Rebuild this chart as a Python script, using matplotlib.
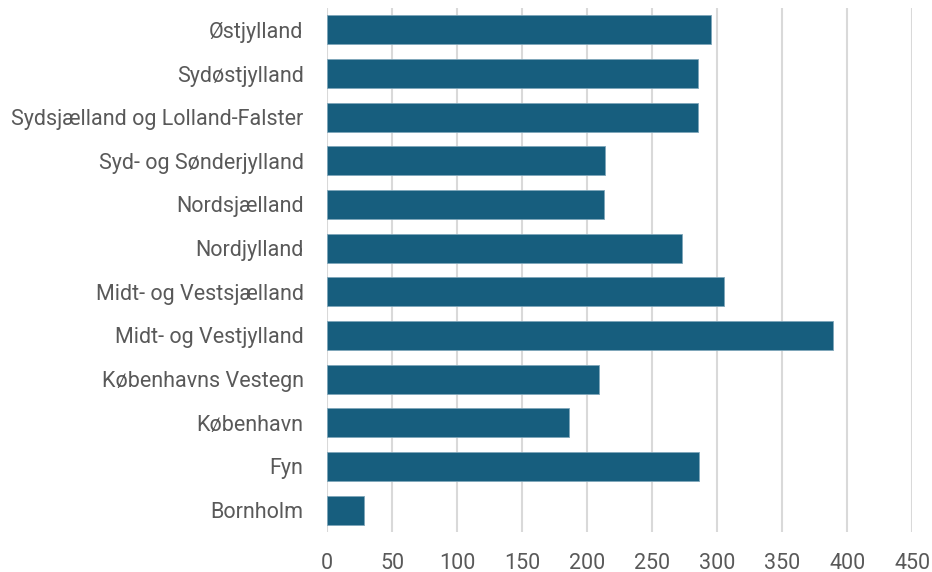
import matplotlib.pyplot as plt

regions = ["Østjylland", "Sydøstjylland", "Sydsjælland og Lolland-Falster",
           "Syd- og Sønderjylland", "Nordsjælland", "Nordjylland",
           "Midt- og Vestsjælland", "Midt- og Vestjylland", "Københavns Vestegn",
           "København", "Fyn", "Bornholm"]
values = [295, 285, 285, 214, 213, 273, 305, 389, 209, 186, 286, 28]
xticks = [0, 50, 100, 150, 200, 250, 300, 350, 400, 450]

plt.rcParams['font.family'] = ['Roboto', 'DejaVu Sans']

fig = plt.figure(figsize=(9.32, 5.72), dpi=100)
ax = fig.add_axes([0.351, 0.070, 0.628, 0.916])

ypos = list(range(len(regions)))
ax.barh(ypos, values, height=0.66, color='#175E7E', edgecolor='#7FA6BA',
        linewidth=0.6, zorder=3)

ax.set_xlim(0, 450)
ax.set_ylim(len(regions) - 0.5, -0.5)
ax.set_yticks(ypos)
ax.set_yticklabels(regions)
ax.set_xticks(xticks)
ax.set_xticklabels([str(t) for t in xticks])

ax.grid(axis='x', color='#D9D9D9', linewidth=1.5, zorder=0)
for s in ax.spines.values():
    s.set_visible(False)
ax.tick_params(axis='both', length=0, labelsize=15.5, colors='#595959')
ax.tick_params(axis='y', pad=17)
ax.tick_params(axis='x', pad=15)

fig.savefig('out.png', dpi=100)
